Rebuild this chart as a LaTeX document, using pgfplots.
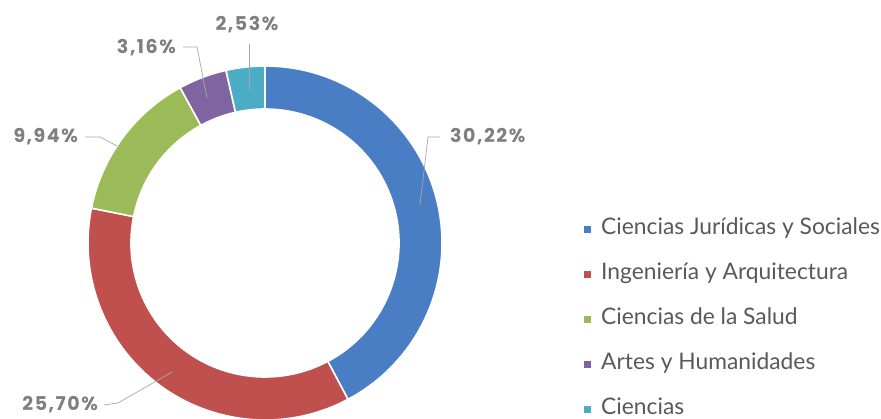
\documentclass[border=0pt]{standalone}
\usepackage{pgfplots}
\pgfplotsset{compat=1.18}
\usepackage{pgfplotstable}
\usepackage{fontspec}
\setmainfont{Lato}
\newfontfamily\labelfont{Poppins}[LetterSpace=8]
\definecolor{cBlue}{HTML}{4A7EC4}
\definecolor{cRed}{HTML}{C0504D}
\definecolor{cGreen}{HTML}{9BBB59}
\definecolor{cPurple}{HTML}{8064A2}
\definecolor{cCyan}{HTML}{4BACC6}
\definecolor{labgray}{HTML}{7F7F7F}
\definecolor{leggray}{HTML}{595959}
\definecolor{leadgray}{HTML}{A6A6A6}

% value, colour, label anchor point (lx,ly), anchor, leader line points
\pgfplotstableread{
value color   lx  ly  anc    ax  ay  bx  by  cx  cy
30.22 cBlue   450 282 west   440 282 428 282 420 214
25.70 cRed    98  14  east   104 14  118 16  172 47
9.94  cGreen  78  282 east   85  282 100 282 117 273
3.16  cPurple 176 371 east   183 372 197 372 207 321
2.53  cCyan   247 394 center 249 375 249 375 249 329
}\donut

\begin{document}
\begin{tikzpicture}
\pgfmathsetmacro\total{0}
\pgfplotsforeachungrouped \i in {0,...,4}{%
  \pgfplotstablegetelem{\i}{value}\of\donut
  \pgfmathsetmacro\total{\total+\pgfplotsretval}%
}
\begin{axis}[
  x=1bp, y=1bp, scale only axis,
  xmin=0, xmax=881, ymin=0, ymax=419,
  hide axis, clip=true,
  legend style={at={(axis cs:584,99.5)}, anchor=west, draw=none, fill=none,
    inner sep=0pt, column sep=10bp, row sep=29bp,
    font=\fontsize{22.8bp}{26bp}\selectfont, text=leggray,
    nodes={inner sep=0pt, text height=13bp, text depth=3bp}},
  legend cell align=left,
  legend image code/.code={\fill[#1, draw=none] (0bp,-3.5bp) rectangle (7bp,3.5bp);},
]
\def\cum{0}
\pgfplotsforeachungrouped \i in {0,...,4}{%
  \pgfplotstablegetelem{\i}{value}\of\donut \let\v\pgfplotsretval
  \pgfplotstablegetelem{\i}{color}\of\donut \let\c\pgfplotsretval
  \pgfplotstablegetelem{\i}{lx}\of\donut \let\lx\pgfplotsretval
  \pgfplotstablegetelem{\i}{ly}\of\donut \let\ly\pgfplotsretval
  \pgfplotstablegetelem{\i}{anc}\of\donut \let\anc\pgfplotsretval
  \pgfplotstablegetelem{\i}{ax}\of\donut \let\ax\pgfplotsretval
  \pgfplotstablegetelem{\i}{ay}\of\donut \let\ay\pgfplotsretval
  \pgfplotstablegetelem{\i}{bx}\of\donut \let\bx\pgfplotsretval
  \pgfplotstablegetelem{\i}{by}\of\donut \let\by\pgfplotsretval
  \pgfplotstablegetelem{\i}{cx}\of\donut \let\cx\pgfplotsretval
  \pgfplotstablegetelem{\i}{cy}\of\donut \let\cy\pgfplotsretval
  \pgfmathsetmacro\aS{90-\cum/\total*360}%
  \pgfmathsetmacro\cumN{\cum+\v}%
  \pgfmathsetmacro\aE{90-\cumN/\total*360}%
  \pgfmathsetmacro\xa{265+177*cos(\aS)}%
  \pgfmathsetmacro\ya{176+177*sin(\aS)}%
  \pgfmathsetmacro\xb{265+134*cos(\aE)}%
  \pgfmathsetmacro\yb{176+134*sin(\aE)}%
  \edef\tmp{\noexpand\fill[\c, draw=white, line width=1.6bp, line join=miter]
    (axis cs:\xa,\ya) arc[start angle=\aS, end angle=\aE, radius=177bp]
    -- (axis cs:\xb,\yb) arc[start angle=\aE, end angle=\aS, radius=134bp] -- cycle;
    \noexpand\draw[leadgray, line width=0.7bp] (axis cs:\ax,\ay) -- (axis cs:\bx,\by) -- (axis cs:\cx,\cy);
    \noexpand\node[anchor=\anc, inner sep=0pt, text=labgray,
      font=\noexpand\labelfont\noexpand\bfseries\noexpand\fontsize{19bp}{22bp}\noexpand\selectfont]
      at (axis cs:\lx,\ly) {\noexpand\pgfmathprintnumber[fixed, fixed zerofill, precision=2, use comma, assume math mode=true]{\v}\noexpand\%};}%
  \tmp
  \let\cum\cumN
}
\addlegendimage{fill=cBlue}\addlegendentry{Ciencias Jurídicas y Sociales}
\addlegendimage{fill=cRed}\addlegendentry{Ingeniería y Arquitectura}
\addlegendimage{fill=cGreen}\addlegendentry{Ciencias de la Salud}
\addlegendimage{fill=cPurple}\addlegendentry{Artes y Humanidades}
\addlegendimage{fill=cCyan}\addlegendentry{Ciencias}
\end{axis}
\pgfresetboundingbox
\useasboundingbox (0,0) rectangle (881bp,419bp);
\end{tikzpicture}
\end{document}
